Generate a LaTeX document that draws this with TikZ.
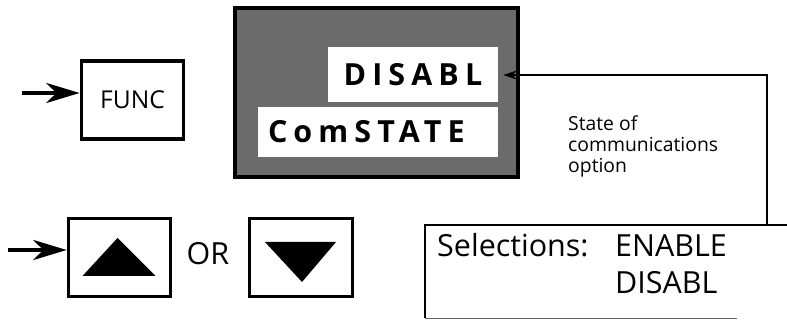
\documentclass[tikz,border=0pt]{standalone}
\usepackage{fontspec}
\setmainfont{Open Sans}
\newfontfamily\lcdfont[LetterSpace=20]{Open Sans Bold}
\usetikzlibrary{positioning,arrows.meta}

\tikzset{
  key/.style={draw, line width=2.6pt, minimum width=30.8mm, minimum height=23.4mm, inner sep=0pt},
  lcd/.style={fill=white, inner sep=0pt, font=\fontsize{26}{28}\lcdfont},
  arr/.style={-{Stealth[length=10mm, width=6mm, inset=3mm]}, line width=3pt},
  big/.style={font=\fontsize{26}{28}\selectfont},
}

\begin{document}
\begin{tikzpicture}[x=0.3mm, y=-0.3mm]
  \useasboundingbox (0,0) rectangle (787,321);

  % Display
  \draw[line width=3.5pt, fill=black!58] (235,8) rectangle (518,177);
  \node[lcd, minimum width=51mm, minimum height=16.5mm] (dis) at (413,74.5) {DISABL};
  \node[lcd, minimum width=72mm, minimum height=15mm, text width=66mm, inner xsep=3mm, align=left] (com) at (378,132) {ComSTATE};

  % Keys
  \node[key, font=\fontsize{21}{24}\selectfont] (func) at (132.5,100) {FUNC};
  \coordinate (fin) at (22,93);
  \draw[arr] (fin) -- (func.west |- fin);

  \node[key] (up) at (119.5,257.5) {};
  \fill ([shift={(-37,18.5)}]up.center) -- ([shift={(36,18.5)}]up.center) -- ([shift={(-2,-19.5)}]up.center) -- cycle;
  \coordinate (uin) at (8,250);
  \draw[arr] (uin) -- (up.west |- uin);

  \node[big] (or) at (208,254) {OR};

  \node[key] (down) at (301,257.5) {};
  \fill ([shift={(-36,-15.5)}]down.center) -- ([shift={(35,-15.5)}]down.center) -- ([shift={(1,24.5)}]down.center) -- cycle;

  % Selections
  \node[anchor=north west, inner sep=0pt, minimum width=108.6mm, minimum height=27.9mm] (sel) at (425,225) {};
  \draw[line width=1.5pt] (sel.north east) -- (sel.north west) -- (sel.south west);
  \draw[line width=0.8pt, black!60] (sel.south west) -- ([xshift=-15mm]sel.south east);
  \node[big, anchor=base west, inner sep=0pt] (seltxt) at (437,257) {Selections:};
  \node[big, anchor=base west, inner sep=0pt] (opt1) at (615,257) {ENABLE};
  \node[big, anchor=base west, inner sep=0pt] (opt2) at (615,294) {DISABL};

  % Connector
  \coordinate (turn) at (767,75);
  \draw[line width=1.5pt, -{Stealth[length=4mm, width=2.6mm]}] (sel.north -| turn) -- (turn) -- ([xshift=1.5mm]dis.east |- turn);

  \node[anchor=base west, align=left, inner sep=0pt, font=\fontsize{16.5}{18.3}\selectfont] (state) at (568,173) {State of\\communications\\option};
\end{tikzpicture}
\end{document}
